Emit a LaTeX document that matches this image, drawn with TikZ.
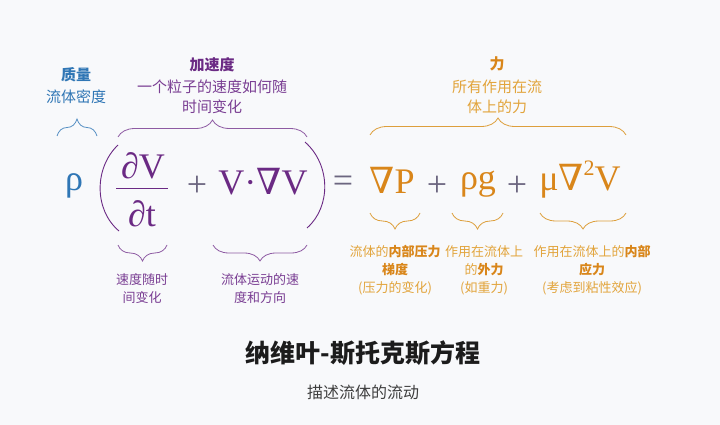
\documentclass[tikz,border=0pt]{standalone}
\usepackage{fontspec}
\setmainfont{Noto Sans CJK SC}
\newfontfamily\eqfont{Liberation Serif}
\newfontfamily\nablafont{DejaVu Serif}
\usetikzlibrary{decorations.pathreplacing}

\definecolor{bgwhite}{HTML}{F8F9FB}
\definecolor{massblue}{HTML}{2F76B5}
\definecolor{accpurple}{HTML}{6B2A84}
\definecolor{notepurple}{HTML}{7A3E93}
\definecolor{forceorange}{HTML}{D9861A}
\definecolor{noteorange}{HTML}{E2A43C}
\definecolor{opgray}{HTML}{6C6680}
\definecolor{titleblack}{HTML}{1C1C1C}

\newcommand\nab{{\nablafont\char"2207}}
\newcommand\keyterm[1]{\textbf{\color{forceorange}#1}}

\begin{document}
\begin{tikzpicture}[
    x=1pt, y=-1pt,
    eq/.style={inner sep=0pt, font=\eqfont\fontsize{36}{36}\selectfont},
    op/.style={eq, text=opgray},
    head/.style={inner sep=0pt, font=\fontsize{15}{15}\selectfont\bfseries},
    desc/.style={inner sep=0pt, align=center, font=\fontsize{15}{20}\selectfont},
    note/.style={inner sep=0pt, align=center, font=\fontsize{13}{18}\selectfont},
    brace/.style={decorate, decoration={brace, amplitude=17pt}, line width=0.8pt},
    underbrace/.style={decorate, decoration={brace, mirror, amplitude=16pt}, line width=0.8pt}
]
    \fill[bgwhite] (0,0) rectangle (720,425);
    \useasboundingbox (0,0) rectangle (720,425);

    % top labels
    \node[head, text=massblue] (mass) at (76,75) {质量};
    \node[desc, text=massblue] (massdesc) at (76,97) {流体密度};
    \node[head, text=accpurple] (accel) at (212,65) {加速度};
    \node[desc, text=notepurple] (acceldesc) at (212,97) {一个粒子的速度如何随\\时间变化};
    \node[head, text=forceorange] (force) at (497,64) {力};
    \node[desc, text=noteorange] (forcedesc) at (497,97) {所有作用在流\\体上的力};

    % equation terms
    \node[eq, text=massblue] (rho) at (74,186) {ρ};
    \node[eq, text=accpurple] (dV) at (143,166) {∂V};
    \node[eq, text=accpurple] (dt) at (142,214) {∂t};
    \node[op] (plusA) at (197,186) {+};
    \node[eq, text=accpurple] (conv) at (263,182) {V·\nab V};
    \node[op] (eqsign) at (343,184) {=};
    \node[eq, text=forceorange] (gradP) at (392,180) {\nab P};
    \node[op] (plusB) at (437,186) {+};
    \node[eq, text=forceorange] (grav) at (478,184) {ρg};
    \node[op] (plusC) at (517,186) {+};
    \node[eq, text=forceorange] (visc) at (580,180) {μ\nab\raisebox{0.9ex}{\fontsize{22}{22}\selectfont 2}V};

    % fraction bar and parentheses
    \draw[accpurple, line width=0.9pt] (116,188) -- (168,188);
    \draw[accpurple, line width=0.9pt] (118,145) .. controls (94,168) and (94,210) .. (119,231);
    \draw[accpurple, line width=0.9pt] (305,142) .. controls (331,165) and (331,207) .. (307,228);

    % braces over the terms
    \draw[brace, massblue!80] (57,136) -- (97,136);
    \draw[brace, notepurple!85] (118,137) -- (307,137);
    \draw[brace, noteorange!85!brown] (370,135) -- (626,135);

    % braces under the terms
    \draw[underbrace, notepurple!85] (118,245) -- (167,245);
    \draw[underbrace, notepurple!85] (213,245) -- (307,245);
    \draw[underbrace, noteorange!85!brown] (370,213) -- (420,213);
    \draw[underbrace, noteorange!85!brown] (452,213) -- (503,213);
    \draw[underbrace, noteorange!85!brown] (540,213) -- (626,213);

    % bottom notes
    \node[note, text=notepurple] (dtnote) at (142,289) {速度随时\\间变化};
    \node[note, text=notepurple] (convnote) at (260,289) {流体运动的速\\度和方向};
    \node[note, text=noteorange] (pnote) at (395,270) {流体的\keyterm{内部压力}\\\keyterm{梯度}\\(压力的变化)};
    \node[note, text=noteorange] (gnote) at (484,270) {作用在流体上\\的\keyterm{外力}\\(如重力)};
    \node[note, text=noteorange] (vnote) at (592,270) {作用在流体上的\keyterm{内部}\\\keyterm{应力}\\(考虑到粘性效应)};

    % title
    \node[inner sep=0pt, text=titleblack, font=\fontsize{25}{25}\selectfont\bfseries] (title) at (363,353) {纳维叶-斯托克斯方程};
    \node[inner sep=0pt, text=titleblack!85, font=\fontsize{16}{16}\selectfont] (subtitle) at (363,392) {描述流体的流动};
\end{tikzpicture}
\end{document}
